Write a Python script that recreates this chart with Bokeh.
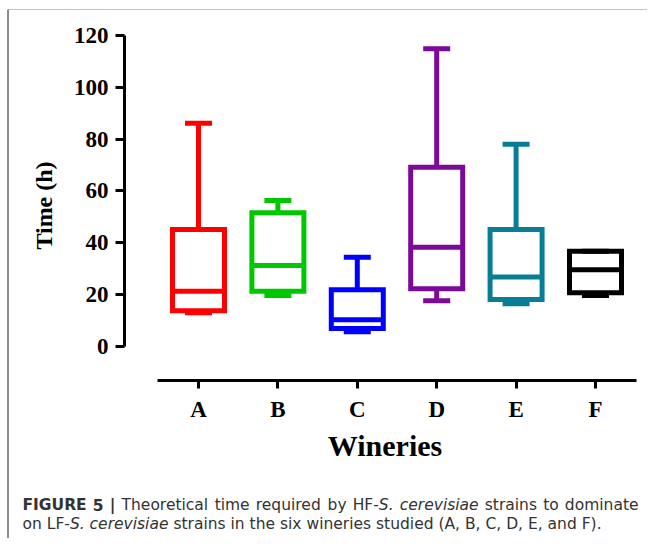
from bokeh.plotting import figure
from bokeh.models import ColumnDataSource, Range1d, FixedTicker, LinearAxis, Label
from bokeh.embed import file_html
from bokeh.resources import INLINE

# ---------------- data ----------------
categories = ["A", "B", "C", "D", "E", "F"]
whisker_low = [12.9, 19.6, 5.6, 17.5, 16.4, 19.6]
q1 = [13.7, 21.2, 6.8, 22.2, 18.0, 20.6]
median = [21.2, 31.2, 10.2, 38.2, 26.7, 29.5]
q3 = [45.1, 51.5, 21.8, 69.1, 45.1, 36.7]
whisker_high = [86.1, 56.3, 34.3, 114.9, 78.0, 36.7]
colors = ["#FF0000", "#00C800", "#0000FF", "#7B0A99", "#087E96", "#000000"]
y_ticks = [0, 20, 40, 60, 80, 100, 120]

# caption words: each word is a list of (text, style) pieces
caption_line1 = [[("FIGURE", "bold")], [("5", "bold")], [("|", "bold")],
                 [("Theoretical", "normal")], [("time", "normal")], [("required", "normal")],
                 [("by", "normal")], [("HF-", "normal"), ("S.", "italic")],
                 [("cerevisiae", "italic")], [("strains", "normal")], [("to", "normal")],
                 [("dominate", "normal")]]
caption_line2 = [[("on", "normal")], [("LF-", "normal"), ("S.", "italic")],
                 [("cerevisiae", "italic")]] + \
    [[(w, "normal")] for w in "strains in the six wineries studied (A, B, C, D, E, and F).".split()]

# ---------------- geometry ----------------
W = 647
H_HEAD, H_TOP, H_CAP = 10, 460, 68
FL, FR, FT, FB = 124, 645, 30 - H_HEAD, 380 - H_HEAD
x_range = Range1d(-0.932, 5.63)
y_range = Range1d(-13.25, 121.9)

BORDER = "#8c8c8c"
GRAD = f"linear-gradient({BORDER},{BORDER})"


def blank(height, css=None):
    f = figure(width=W, height=height, x_range=Range1d(0, W), y_range=Range1d(height, 0),
               output_backend="svg", toolbar_location=None,
               x_axis_location=None, y_axis_location=None,
               min_border_left=0, min_border_right=0, min_border_top=0, min_border_bottom=0)
    if css:
        f.styles = css
    f.outline_line_color = None
    f.background_fill_color = None
    f.border_fill_color = None
    for g in f.grid:
        g.visible = False
    return f


# ---------------- header strip with the outer border's top-left corner ----------------
head = blank(H_HEAD)
head.segment(x0=[7, 8], y0=[8, 7], x1=[W, 8], y1=[8, H_HEAD], line_color=BORDER, line_width=2)

# ---------------- chart ----------------
BOX_W = 0.655
CAP_W = 0.34
xs = list(range(len(categories)))
src = ColumnDataSource(dict(
    x=xs,
    left=[x - BOX_W / 2 for x in xs],
    right=[x + BOX_W / 2 for x in xs],
    cap_l=[x - CAP_W / 2 for x in xs],
    cap_r=[x + CAP_W / 2 for x in xs],
    lo=whisker_low, q1=q1, med=median, q3=q3, hi=whisker_high, color=colors,
))

p = figure(width=W, height=H_TOP, x_range=x_range, y_range=y_range,
           output_backend="svg", toolbar_location=None,
           x_axis_location=None, y_axis_location=None,
           min_border_left=FL, min_border_right=W - FR,
           min_border_top=FT, min_border_bottom=H_TOP - FB,
           styles={"background": f"{GRAD} 7px 0px / 2px {H_TOP}px no-repeat, white"})
p.outline_line_color = None
p.background_fill_color = None
p.border_fill_color = None
for g in p.grid:
    g.visible = False

LW = 5
p.segment(x0="x", y0="q3", x1="x", y1="hi", source=src, line_color="color", line_width=LW)
p.segment(x0="x", y0="lo", x1="x", y1="q1", source=src, line_color="color", line_width=LW)
p.segment(x0="cap_l", y0="hi", x1="cap_r", y1="hi", source=src, line_color="color", line_width=LW)
p.segment(x0="cap_l", y0="lo", x1="cap_r", y1="lo", source=src, line_color="color", line_width=LW)
p.quad(left="left", right="right", bottom="q1", top="q3", source=src,
       fill_color=None, line_color="color", line_width=LW, line_join="miter")
p.segment(x0="left", y0="med", x1="right", y1="med", source=src, line_color="color", line_width=LW)

SERIF = "Liberation Serif"
yaxis = LinearAxis(ticker=FixedTicker(ticks=y_ticks), bounds=(0, 120), axis_label="Time (h)")
xaxis = LinearAxis(ticker=FixedTicker(ticks=xs), bounds=(-0.52, 5.52), axis_label="Wineries",
                   major_label_overrides={i: c for i, c in enumerate(categories)})
for ax in (yaxis, xaxis):
    ax.axis_line_width = 3
    ax.axis_line_color = "black"
    ax.major_tick_line_width = 3
    ax.major_tick_line_color = "black"
    ax.major_tick_in = 0
    ax.minor_tick_line_color = None
    ax.major_label_text_font = SERIF
    ax.major_label_text_font_style = "bold"
    ax.major_label_text_color = "black"
    ax.axis_label_text_font = SERIF
    ax.axis_label_text_font_style = "bold"
    ax.axis_label_text_color = "black"
yaxis.major_tick_out = 9
yaxis.major_label_standoff = 7
yaxis.major_label_text_font_size = "23px"
yaxis.axis_label_text_font_size = "24px"
yaxis.axis_label_standoff = 14
xaxis.major_tick_out = 8
xaxis.major_label_standoff = 8
xaxis.major_label_text_font_size = "23px"
xaxis.axis_label_text_font_size = "30px"
xaxis.axis_label_standoff = 4
p.add_layout(yaxis, "left")
p.add_layout(xaxis, "below")

# ---------------- caption ----------------
cap = blank(H_CAP, {"background": f"{GRAD} 7px 0px / 2px {H_CAP}px no-repeat, white"})

REG = {" ": .318, "(": .390, ")": .390, ",": .318, "-": .361, ".": .318, "|": .337,
       "A": .684, "B": .686, "C": .698, "D": .770, "E": .632, "F": .575, "H": .752,
       "L": .557, "S": .635, "T": .611, "a": .613, "b": .635, "c": .550, "d": .635,
       "e": .615, "h": .634, "i": .278, "l": .278, "m": .974, "n": .634, "o": .612,
       "q": .635, "r": .411, "s": .521, "t": .392, "u": .634, "v": .592, "w": .818,
       "y": .592, "x": .592, "k": .579}
BOLD = {"F": .683, "I": .372, "G": .821, "U": .812, "R": .770, "E": .683, " ": .348,
        "5": .696, "|": .366}
CAP_FONT = "DejaVu Sans"
CAP_SIZE = 15.5
CAP_COLOR = "#333333"
LEFT_X = 22


def piece_w(text, style):
    table = BOLD if style == "bold" else REG
    return sum(table.get(ch, .6) for ch in text) * CAP_SIZE


def word_w(word):
    return sum(piece_w(t, s) for t, s in word)


def draw_line(words, base, right_edge=None):
    space = REG[" "] * CAP_SIZE
    natural = sum(word_w(w) for w in words) + space * (len(words) - 1)
    gap = space
    if right_edge is not None:
        gap = space + (right_edge - LEFT_X - natural) / (len(words) - 1)
    cx = LEFT_X
    for word in words:
        for text, style in word:
            cap.add_layout(Label(x=cx, y=base, text=text, text_font=CAP_FONT,
                                 text_font_size=f"{CAP_SIZE}px", text_font_style=style,
                                 text_color=CAP_COLOR, text_baseline="alphabetic",
                                 text_align="left"))
            cx += piece_w(text, style)
        cx += gap


top_of_cap = H_HEAD + H_TOP
draw_line(caption_line1, 504 - top_of_cap, right_edge=638)
draw_line(caption_line2, 523 - top_of_cap)

open("out.html", "w").write(file_html([head, p, cap], INLINE))
